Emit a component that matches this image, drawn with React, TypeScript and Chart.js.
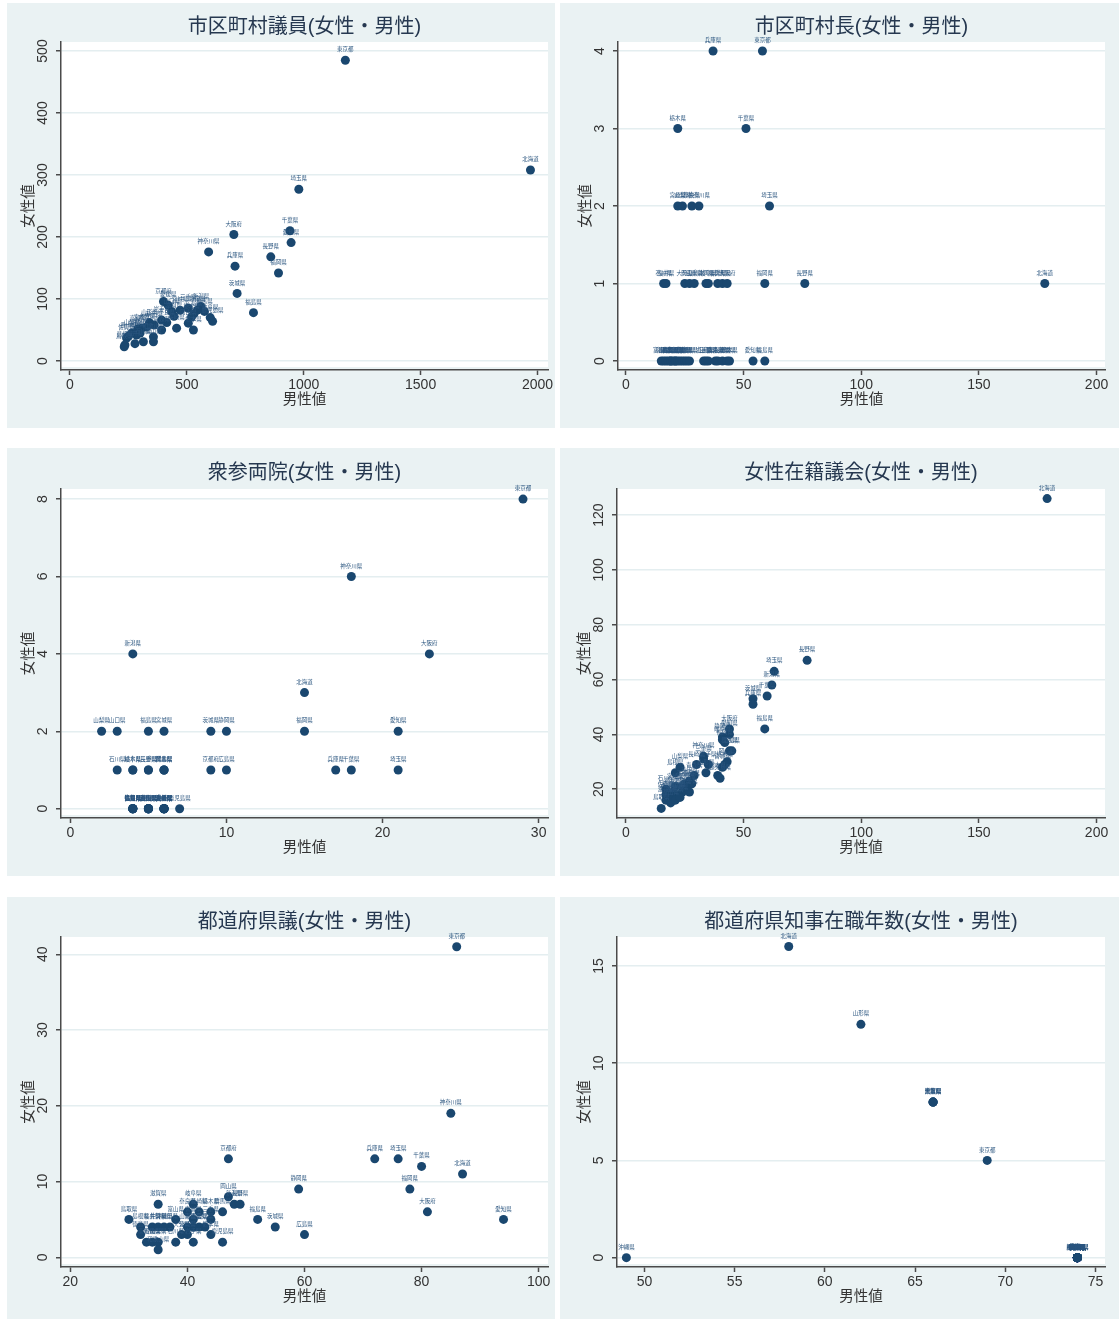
import { useEffect, useRef } from "react";
import { Chart, registerables } from "chart.js";

Chart.register(...registerables);

// ---------------------------------------------------------------------------
// Data: number of women (y) against number of men (x) for each prefecture
// ---------------------------------------------------------------------------

// 市区町村議員
const muniNames = ["東京都", "北海道", "埼玉県", "千葉県", "愛知県", "大阪府", "神奈川県", "兵庫県", "長野県", "福岡県", "茨城県", "福島県", "京都府", "新潟県", "静岡県", "広島県", "岐阜県", "群馬県", "栃木県", "三重県", "宮城県", "岡山県", "熊本県", "鹿児島県", "山口県", "愛媛県", "滋賀県", "奈良県", "長崎県", "岩手県", "青森県", "秋田県", "山形県", "大分県", "宮崎県", "和歌山県", "沖縄県", "富山県", "石川県", "福井県", "山梨県", "佐賀県", "徳島県", "香川県", "高知県", "島根県", "鳥取県"];
const muniMale = [1178, 1970, 979, 941, 946, 701, 593, 706, 859, 892, 715, 785, 400, 560, 545, 530, 600, 575, 520, 506, 471, 506, 528, 610, 435, 420, 445, 414, 456, 392, 392, 360, 340, 328, 307, 357, 300, 357, 314, 278, 264, 242, 285, 250, 290, 235, 232];
const muniFemale = [485, 308, 277, 210, 191, 204, 176, 153, 168, 142, 109, 78, 96, 88, 82, 76, 70, 80, 71, 85, 82, 61, 50, 64, 80, 90, 72, 62, 53, 66, 50, 58, 62, 55, 53, 39, 45, 31, 31, 28, 45, 37, 42, 40, 52, 26, 23];
const muniXTicks = [0, 500, 1000, 1500, 2000];
const muniYTicks = [0, 100, 200, 300, 400, 500];

// 市区町村長
const mayorNames = ["兵庫県", "東京都", "栃木県", "千葉県", "宮崎県", "山梨県", "奈良県", "神奈川県", "埼玉県", "石川県", "福井県", "大分県", "岡山県", "三重県", "静岡県", "岐阜県", "新潟県", "群馬県", "大阪府", "福岡県", "長野県", "北海道", "富山県", "鳥取県", "香川県", "徳島県", "佐賀県", "滋賀県", "和歌山県", "高知県", "島根県", "京都府", "山口県", "愛媛県", "宮城県", "秋田県", "沖縄県", "岩手県", "広島県", "山形県", "青森県", "鹿児島県", "長崎県", "茨城県", "熊本県", "愛知県", "福島県"];
const mayorMale = [37, 58, 22, 51, 22, 24, 28, 31, 61, 16, 17, 25, 27, 29, 34, 35, 39, 41, 43, 59, 76, 178, 15, 16, 17, 18, 19, 19, 20, 21, 21, 22, 23, 24, 25, 26, 27, 33, 34, 35, 38, 39, 41, 43, 44, 54, 59];
const mayorFemale = [4, 4, 3, 3, 2, 2, 2, 2, 2, 1, 1, 1, 1, 1, 1, 1, 1, 1, 1, 1, 1, 1, 0, 0, 0, 0, 0, 0, 0, 0, 0, 0, 0, 0, 0, 0, 0, 0, 0, 0, 0, 0, 0, 0, 0, 0, 0];
const mayorXTicks = [0, 50, 100, 150, 200];
const mayorYTicks = [0, 1, 2, 3, 4];

// 衆参両院
const dietNames = ["東京都", "神奈川県", "新潟県", "大阪府", "北海道", "山梨県", "山口県", "福島県", "宮城県", "茨城県", "静岡県", "福岡県", "愛知県", "兵庫県", "千葉県", "埼玉県", "京都府", "広島県", "石川県", "岐阜県", "栃木県", "長野県", "三重県", "群馬県", "岡山県", "熊本県", "鳥取県", "島根県", "徳島県", "高知県", "佐賀県", "福井県", "富山県", "香川県", "和歌山県", "秋田県", "山形県", "滋賀県", "奈良県", "岩手県", "青森県", "愛媛県", "大分県", "宮崎県", "長崎県", "沖縄県", "鹿児島県"];
const dietMale = [29, 18, 4, 23, 15, 2, 3, 5, 6, 9, 10, 15, 21, 17, 18, 21, 9, 10, 3, 4, 4, 5, 5, 6, 6, 6, 4, 4, 4, 4, 4, 4, 5, 5, 5, 5, 5, 5, 5, 6, 6, 6, 6, 6, 6, 6, 7];
const dietFemale = [8, 6, 4, 4, 3, 2, 2, 2, 2, 2, 2, 2, 2, 1, 1, 1, 1, 1, 1, 1, 1, 1, 1, 1, 1, 1, 0, 0, 0, 0, 0, 0, 0, 0, 0, 0, 0, 0, 0, 0, 0, 0, 0, 0, 0, 0, 0];
const dietXTicks = [0, 10, 20, 30];
const dietYTicks = [0, 2, 4, 6, 8];

// 女性在籍議会
const assemblyNames = ["埼玉県", "新潟県", "千葉県", "茨城県", "兵庫県", "福島県", "大阪府", "愛知県", "静岡県", "岐阜県", "福岡県", "広島県", "群馬県", "岡山県", "栃木県", "宮城県", "熊本県", "鹿児島県", "神奈川県", "三重県", "岩手県", "山形県", "長崎県", "青森県", "秋田県", "京都府", "山口県", "愛媛県", "大分県", "宮崎県", "和歌山県", "奈良県", "滋賀県", "富山県", "鳥取県", "石川県", "島根県", "山梨県", "東京都", "香川県", "徳島県", "高知県", "佐賀県", "福井県", "沖縄県", "北海道", "長野県"];
const assemblyMale = [63, 62, 60, 54, 54, 59, 44, 44, 41, 41, 42, 45, 44, 43, 42, 41, 39, 40, 33, 33, 35, 34, 30, 29, 27, 25, 24, 24, 27, 21, 20, 18, 17, 19, 15, 17, 21, 23, 26, 22, 20, 28, 17, 21, 23, 179, 77];
const assemblyFemale = [63, 58, 54, 53, 51, 42, 42, 40, 39, 38, 37, 34, 34, 30, 29, 28, 25, 24, 32, 31, 29, 26, 29, 25, 23, 22, 21, 19, 19, 21, 18, 17, 16, 15, 13, 20, 26, 28, 21, 18, 19, 22, 18, 16, 17, 126, 67];
const assemblyXTicks = [0, 50, 100, 150, 200];
const assemblyYTicks = [20, 40, 60, 80, 100, 120];

// 都道府県議
const prefNames = ["東京都", "神奈川県", "兵庫県", "埼玉県", "千葉県", "北海道", "福岡県", "大阪府", "愛知県", "京都府", "静岡県", "広島県", "茨城県", "福島県", "岡山県", "新潟県", "長野県", "鳥取県", "滋賀県", "島根県", "徳島県", "高知県", "香川県", "福井県", "佐賀県", "山梨県", "和歌山県", "秋田県", "富山県", "石川県", "大分県", "宮崎県", "奈良県", "岐阜県", "山形県", "青森県", "岩手県", "長崎県", "山口県", "愛媛県", "熊本県", "三重県", "栃木県", "群馬県", "鹿児島県", "宮城県", "沖縄県"];
const prefMale = [86, 85, 72, 76, 80, 87, 78, 81, 94, 47, 59, 60, 55, 52, 47, 48, 49, 30, 35, 32, 32, 33, 34, 34, 35, 35, 35, 37, 38, 38, 39, 40, 40, 41, 40, 41, 41, 42, 42, 43, 44, 44, 44, 46, 46, 41, 36];
const prefFemale = [41, 19, 13, 13, 12, 11, 9, 6, 5, 13, 9, 3, 4, 5, 8, 7, 7, 5, 7, 4, 3, 2, 2, 4, 4, 2, 1, 4, 5, 2, 3, 3, 6, 7, 4, 4, 2, 6, 4, 4, 3, 5, 6, 6, 2, 5, 4];
const prefXTicks = [20, 40, 60, 80, 100];
const prefYTicks = [0, 10, 20, 30, 40];

// 都道府県知事在職年数
const governorNames = ["沖縄県", "北海道", "山形県", "千葉県", "熊本県", "大阪府", "滋賀県", "東京都", "青森県", "岩手県", "宮城県", "秋田県", "福島県", "茨城県", "栃木県", "群馬県", "埼玉県", "神奈川県", "新潟県", "富山県", "石川県", "福井県", "山梨県", "長野県", "岐阜県", "静岡県", "愛知県", "三重県", "京都府", "兵庫県", "奈良県", "和歌山県", "鳥取県", "島根県", "岡山県", "広島県", "山口県", "徳島県", "香川県", "愛媛県", "高知県", "福岡県", "佐賀県", "長崎県", "大分県", "宮崎県", "鹿児島県"];
const governorMale = [49, 58, 62, 66, 66, 66, 66, 69, 74, 74, 74, 74, 74, 74, 74, 74, 74, 74, 74, 74, 74, 74, 74, 74, 74, 74, 74, 74, 74, 74, 74, 74, 74, 74, 74, 74, 74, 74, 74, 74, 74, 74, 74, 74, 74, 74, 74];
const governorFemale = [0, 16, 12, 8, 8, 8, 8, 5, 0, 0, 0, 0, 0, 0, 0, 0, 0, 0, 0, 0, 0, 0, 0, 0, 0, 0, 0, 0, 0, 0, 0, 0, 0, 0, 0, 0, 0, 0, 0, 0, 0, 0, 0, 0, 0, 0, 0];
const governorXTicks = [50, 55, 60, 65, 70, 75];
const governorYTicks = [0, 5, 10, 15];

const X_TITLE = "男性値";
const Y_TITLE = "女性値";

// ---------------------------------------------------------------------------
// Styling
// ---------------------------------------------------------------------------
const PAGE_BG = "#EAF2F3";
const PLOT_BG = "#FFFFFF";
const GRID = "#E4EEF0";
const AXIS = "#4A4A4A";
const TEXT = "#333333";
const TITLE_COLOR = "#263850";
const MARKER = "#1A476F";
const LATIN = '"Liberation Sans", Arial, sans-serif';
const MIXED = '"Liberation Sans", "Noto Sans CJK JP", sans-serif';
const CJK = '"Noto Sans CJK JP", sans-serif';
const TICK_SIZE = 14;
const TICK_LEN = 5;

type Box = { x: number; y: number; w: number; h: number };
type Area = { l: number; r: number; t: number; b: number };
type PanelSpec = {
  title: string;
  names: string[];
  male: number[];
  female: number[];
  xTicks: number[];
  yTicks: number[];
  xMin: number;
  xMax: number;
  yMin: number;
  yMax: number;
  box: Box;
  area: Area;
  titleY: number;
};

const panels: PanelSpec[] = [
  {
    title: "市区町村議員(女性・男性)", names: muniNames, male: muniMale, female: muniFemale,
    xTicks: muniXTicks, yTicks: muniYTicks, xMin: -38.5, xMax: 2045, yMin: -14.5, yMax: 514.5,
    box: { x: 7, y: 3, w: 548, h: 425 }, area: { l: 54, r: 541, t: 39, b: 367 }, titleY: 24,
  },
  {
    title: "市区町村長(女性・男性)", names: mayorNames, male: mayorMale, female: mayorFemale,
    xTicks: mayorXTicks, yTicks: mayorYTicks, xMin: -3.4, xMax: 203.6, yMin: -0.116, yMax: 4.116,
    box: { x: 560, y: 3, w: 559, h: 425 }, area: { l: 58, r: 545, t: 39, b: 367 }, titleY: 24,
  },
  {
    title: "衆参両院(女性・男性)", names: dietNames, male: dietMale, female: dietFemale,
    xTicks: dietXTicks, yTicks: dietYTicks, xMin: -0.6, xMax: 30.6, yMin: -0.24, yMax: 8.26,
    box: { x: 7, y: 448, w: 548, h: 428 }, area: { l: 54, r: 541, t: 41, b: 370 }, titleY: 25,
  },
  {
    title: "女性在籍議会(女性・男性)", names: assemblyNames, male: assemblyMale, female: assemblyFemale,
    xTicks: assemblyXTicks, yTicks: assemblyYTicks, xMin: -3.8, xMax: 203.6, yMin: 9.5, yMax: 129.5,
    box: { x: 560, y: 448, w: 559, h: 428 }, area: { l: 57, r: 545, t: 41, b: 370 }, titleY: 25,
  },
  {
    title: "都道府県議(女性・男性)", names: prefNames, male: prefMale, female: prefFemale,
    xTicks: prefXTicks, yTicks: prefYTicks, xMin: 18.4, xMax: 101.6, yMin: -1.28, yMax: 42.28,
    box: { x: 7, y: 897, w: 548, h: 422 }, area: { l: 54, r: 541, t: 40, b: 370 }, titleY: 25,
  },
  {
    title: "都道府県知事在職年数(女性・男性)", names: governorNames, male: governorMale, female: governorFemale,
    xTicks: governorXTicks, yTicks: governorYTicks, xMin: 48.48, xMax: 75.53, yMin: -0.48, yMax: 16.49,
    box: { x: 560, y: 897, w: 559, h: 422 }, area: { l: 57, r: 545, t: 40, b: 370 }, titleY: 25,
  },
];

// Width of the widest tick label, used to centre the rotated y labels.
function widestLabel(values: number[]): number {
  const ctx = document.createElement("canvas").getContext("2d");
  if (!ctx) return 0;
  ctx.font = `${TICK_SIZE}px ${LATIN}`;
  return Math.max(...values.map((v) => ctx.measureText(String(v)).width));
}

// Grey graph region with a white plot region.
const panelBackground = {
  id: "panelBackground",
  beforeDraw(chart: any) {
    const { ctx, width, height, chartArea: a } = chart;
    ctx.save();
    ctx.fillStyle = PAGE_BG;
    ctx.fillRect(0, 0, width, height);
    ctx.fillStyle = PLOT_BG;
    ctx.fillRect(a.left, a.top, a.right - a.left, a.bottom - a.top - 3);
    ctx.restore();
  },
};

// Prefecture name written just above each marker.
const markerLabels = {
  id: "markerLabels",
  afterDatasetsDraw(chart: any, _args: any, opts: any) {
    const names: string[] = opts.names || [];
    const meta = chart.getDatasetMeta(0);
    const { ctx } = chart;
    ctx.save();
    ctx.font = `5.5px ${CJK}`;
    ctx.fillStyle = "#2A557F";
    ctx.textAlign = "center";
    ctx.textBaseline = "middle";
    meta.data.forEach((el: any, i: number) => {
      if (names[i]) ctx.fillText(names[i], el.x, el.y - 11);
    });
    ctx.restore();
  },
};

function ScatterPanel({ spec }: { spec: PanelSpec }) {
  const ref = useRef<HTMLCanvasElement>(null);

  useEffect(() => {
    const canvas = ref.current;
    if (!canvas) return;
    const { box, area } = spec;
    const yLabelPad = 18 - TICK_LEN - widestLabel(spec.yTicks) / 2;
    const titleFont = { family: MIXED, size: 20, weight: "normal", lineHeight: 1.2 };
    const titleHalf = (titleFont.size * titleFont.lineHeight) / 2;
    const axisTitleFont = { family: MIXED, size: 14.5, weight: "normal", lineHeight: 1 };
    const tickFont = { family: LATIN, size: TICK_SIZE, lineHeight: 1 };

    const chart = new Chart(canvas, {
      type: "scatter",
      data: {
        datasets: [
          {
            data: spec.male.map((m, i) => ({ x: m, y: spec.female[i] })),
            backgroundColor: MARKER,
            borderColor: MARKER,
            borderWidth: 0,
            pointRadius: 4.5,
            pointHoverRadius: 4.5,
            clip: false as any,
          },
        ],
      },
      options: {
        animation: false,
        responsive: false,
        devicePixelRatio: 1,
        events: [],
        layout: { padding: { left: 0, right: box.w - area.r, top: 0, bottom: 0 } },
        plugins: {
          legend: { display: false },
          tooltip: { enabled: false },
          title: {
            display: true,
            text: spec.title,
            fullSize: false,
            color: TITLE_COLOR,
            font: titleFont as any,
            padding: { top: spec.titleY - titleHalf, bottom: area.t - spec.titleY - titleHalf },
          },
          markerLabels: { names: spec.names },
        } as any,
        scales: {
          x: {
            type: "linear",
            position: "bottom",
            min: spec.xMin,
            max: spec.xMax,
            afterBuildTicks: (s: any) => {
              s.ticks = spec.xTicks.map((v) => ({ value: v }));
            },
            afterFit: (s: any) => {
              s.height = box.h - area.b;
              s.paddingLeft = 0;
              s.paddingRight = 0;
            },
            ticks: {
              autoSkip: false,
              maxRotation: 0,
              padding: 3,
              color: TEXT,
              font: tickFont as any,
              callback: (v: any) => String(v),
            },
            grid: {
              drawOnChartArea: false,
              drawTicks: true,
              tickLength: TICK_LEN,
              tickColor: AXIS,
              tickWidth: 1.5,
            },
            border: { display: true, color: AXIS, width: 1.5 },
            title: {
              display: true,
              text: X_TITLE,
              color: TEXT,
              font: axisTitleFont as any,
              padding: { top: 0, bottom: box.h - area.b - 30 - axisTitleFont.size / 2 },
            },
          },
          y: {
            type: "linear",
            position: "left",
            min: spec.yMin,
            max: spec.yMax,
            afterBuildTicks: (s: any) => {
              s.ticks = spec.yTicks.map((v) => ({ value: v }));
            },
            afterFit: (s: any) => {
              s.width = area.l;
              s.paddingTop = 0;
              s.paddingBottom = 0;
            },
            ticks: {
              autoSkip: false,
              minRotation: 90,
              maxRotation: 90,
              crossAlign: "center",
              padding: yLabelPad,
              color: TEXT,
              font: tickFont as any,
              callback: (v: any) => String(v),
            },
            grid: {
              color: GRID,
              lineWidth: 1.5,
              drawTicks: true,
              tickLength: TICK_LEN,
              tickColor: AXIS,
              tickWidth: 1.5,
            },
            border: { display: true, color: AXIS, width: 1.5 },
            title: {
              display: true,
              text: Y_TITLE,
              color: TEXT,
              font: axisTitleFont as any,
              padding: { top: area.l - 32.5 - axisTitleFont.size / 2, bottom: 0 },
            },
          },
        },
      },
      plugins: [panelBackground, markerLabels],
    });

    return () => chart.destroy();
  }, [spec]);

  return (
    <div
      style={{
        position: "absolute",
        left: spec.box.x,
        top: spec.box.y,
        width: spec.box.w,
        height: spec.box.h,
      }}
    >
      <canvas
        ref={ref}
        width={spec.box.w}
        height={spec.box.h}
        style={{ display: "block", width: spec.box.w, height: spec.box.h }}
      />
    </div>
  );
}

export default function App() {
  return (
    <div
      style={{
        position: "absolute",
        left: 0,
        top: 0,
        width: 1119,
        height: 1319,
        background: "#FFFFFF",
        overflow: "hidden",
      }}
    >
      {panels.map((p) => (
        <ScatterPanel key={p.title} spec={p} />
      ))}
    </div>
  );
}
